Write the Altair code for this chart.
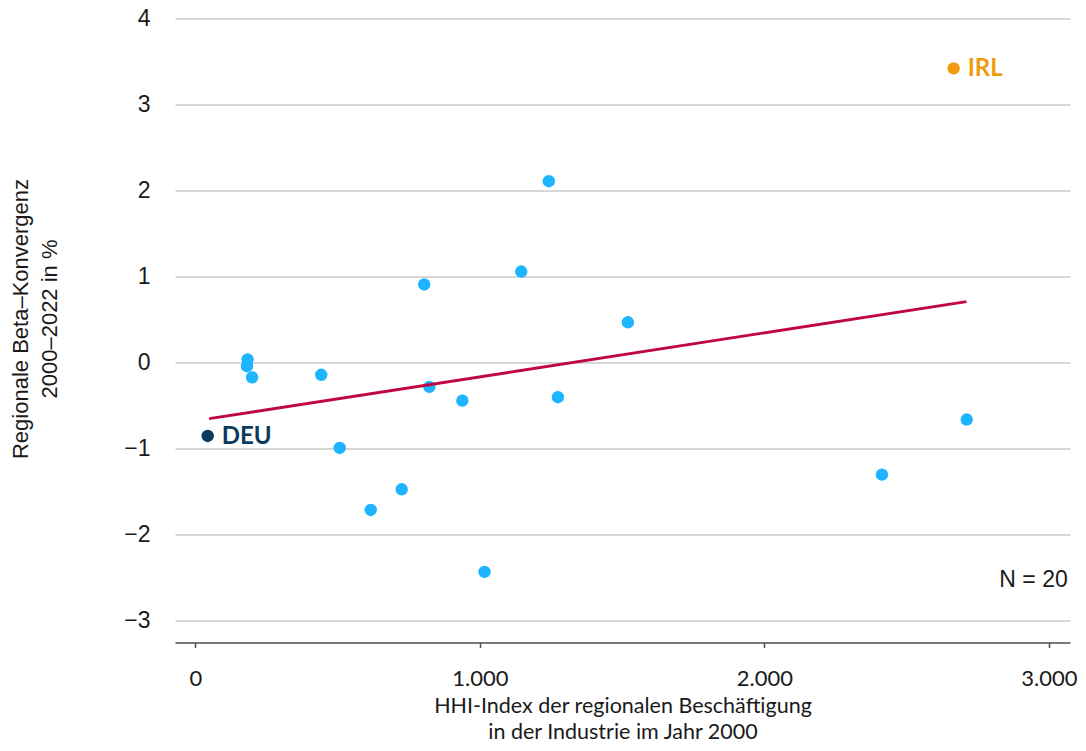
import altair as alt
import pandas as pd

# ---- data ----
hhi = [183, 181, 199, 442, 507, 616, 725, 804, 822, 938, 1016, 1145, 1242, 1274, 1520, 2413, 2711]
beta = [0.04, -0.04, -0.17, -0.14, -0.99, -1.71, -1.47, 0.91, -0.28, -0.44, -2.43, 1.06, 2.11, -0.40, 0.47, -1.30, -0.66]

highlight_labels = ["DEU", "IRL"]
highlight_hhi = [43, 2665]
highlight_beta = [-0.85, 3.42]
highlight_colors = ["#0b3a5c", "#f29a0e"]

fit_hhi = [48, 2710]
fit_beta = [-0.65, 0.71]

x_ticks = [0, 1000, 2000, 3000]
y_ticks = [-3, -2, -1, 0, 1, 2, 3, 4]

note_text = ["N = 20"]
note_hhi = [3066]
note_beta = [-2.52]

x_title = ["HHI-Index der regionalen Beschäftigung", "in der Industrie im Jahr 2000"]
y_title = ["Regionale Beta\u2013Konvergenz", "2000\u20132022 in %"]

# ---- tables ----
pts = pd.DataFrame({"hhi": hhi, "beta": beta})
hl = pd.DataFrame({"label": highlight_labels, "hhi": highlight_hhi, "beta": highlight_beta})
fit = pd.DataFrame({"hhi": fit_hhi, "beta": fit_beta})
note = pd.DataFrame({"text": note_text, "hhi": note_hhi, "beta": note_beta})

xscale = alt.Scale(domain=[-72, 3074], nice=False, zero=False)
yscale = alt.Scale(domain=[-3.25, 4], nice=False, zero=False)

x_axis = alt.Axis(
    values=x_ticks,
    labelExpr="replace(format(datum.value, ','), ',', '.')",
    labelFont="Lato", labelFontSize=22, labelColor="#1a1a1a",
    labelBaseline="alphabetic", labelPadding=38,
    tickSize=5, tickColor="#4d4d4d", tickWidth=1.5,
    domainColor="#4d4d4d", domainWidth=1.5,
    grid=False,
    title=x_title, titleFont="Lato", titleFontSize=21.5, titleFontWeight="normal",
    titleColor="#1a1a1a", titleBaseline="alphabetic", titleY=70, titleLineHeight=25.8,
)
y_axis = alt.Axis(
    values=y_ticks, format="d",
    grid=True, gridColor="#c8c8c8", gridWidth=1.5,
    domain=False, ticks=False,
    labelFont="Liberation Sans", labelFontSize=23, labelColor="#1a1a1a", labelPadding=25,
    title=y_title, titleFont="Liberation Sans", titleFontSize=22, titleFontWeight="normal",
    titleColor="#1a1a1a", titleAngle=270, titleAlign="center", titleBaseline="alphabetic",
    titleX=-148, titleY=300, titleLineHeight=29,
)

color_scale = alt.Scale(domain=highlight_labels, range=highlight_colors)

base_pts = alt.Chart(pts).mark_circle(size=154, color="#1fb4ff", opacity=1).encode(
    x=alt.X("hhi:Q", scale=xscale, axis=x_axis),
    y=alt.Y("beta:Q", scale=yscale, axis=y_axis),
)

line = alt.Chart(fit).mark_line(color="#c0063e", strokeWidth=2.8).encode(
    x=alt.X("hhi:Q", scale=xscale),
    y=alt.Y("beta:Q", scale=yscale),
)

hl_pts = alt.Chart(hl).mark_circle(size=154, opacity=1).encode(
    x=alt.X("hhi:Q", scale=xscale),
    y=alt.Y("beta:Q", scale=yscale),
    color=alt.Color("label:N", scale=color_scale, legend=None),
)

hl_text = alt.Chart(hl).mark_text(
    align="left", baseline="middle", dx=14, dy=1, font="Lato", fontSize=24, fontWeight="bold"
).encode(
    x=alt.X("hhi:Q", scale=xscale),
    y=alt.Y("beta:Q", scale=yscale),
    text="label:N",
    color=alt.Color("label:N", scale=color_scale, legend=None),
)

note_mark = alt.Chart(note).mark_text(
    align="right", baseline="middle", font="Liberation Sans", fontSize=23, color="#1a1a1a"
).encode(
    x=alt.X("hhi:Q", scale=xscale),
    y=alt.Y("beta:Q", scale=yscale),
    text="text:N",
)

chart = alt.layer(base_pts, line, hl_pts, hl_text, note_mark).properties(
    width=895, height=624,
    autosize=alt.AutoSizeParams(type="none"),
    padding={"left": 167, "top": 10.5, "right": 8, "bottom": 100.5},
    background="white",
).configure_view(stroke=None)

chart.save("out.html", embed_options={"renderer": "svg", "actions": False})
